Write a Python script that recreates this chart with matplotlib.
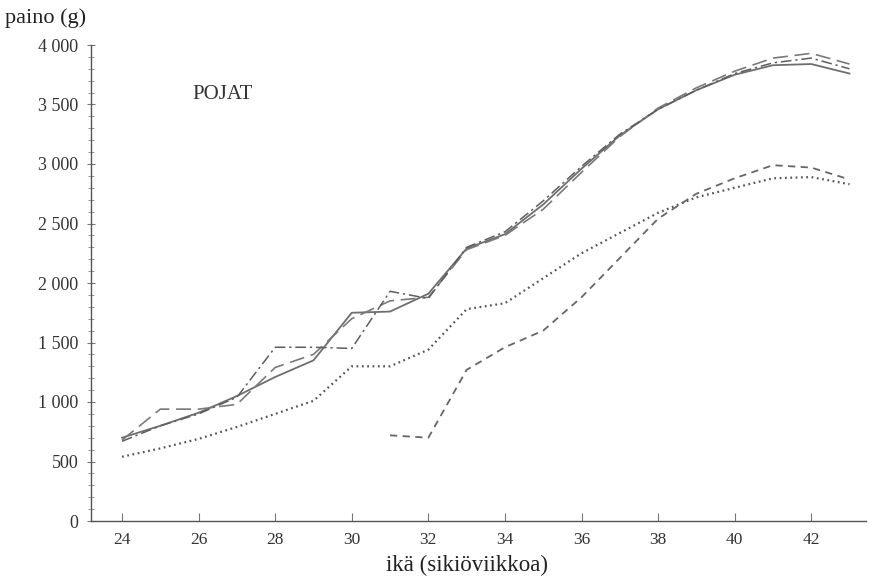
#!/usr/bin/env python3
"""Pojat: paino raskausviikon mukaan, viisi käyrää (out.png)."""

import matplotlib
matplotlib.use("Agg")
import matplotlib.pyplot as plt
from matplotlib.ticker import FuncFormatter, MultipleLocator

weeks = list(range(24, 44))
late_weeks = list(range(31, 44))

solid = [700, 800, 910, 1050, 1210, 1350, 1750, 1760, 1910, 2290,
         2410, 2660, 2960, 3240, 3460, 3620, 3750, 3830, 3840, 3760]
long_dash = [680, 940, 940, 980, 1290, 1400, 1700, 1850, 1880, 2280,
             2400, 2620, 2930, 3230, 3470, 3640, 3780, 3890, 3930, 3840]
dash_dot = [670, 800, 900, 1040, 1460, 1460, 1450, 1930, 1870, 2300,
            2430, 2690, 2980, 3250, 3460, 3620, 3760, 3850, 3890, 3800]
dotted = [540, 610, 690, 790, 900, 1010, 1300, 1300, 1440, 1780,
          1830, 2040, 2250, 2420, 2590, 2720, 2800, 2880, 2890, 2830]
dashed_late = [720, 700, 1270, 1460, 1600, 1880, 2210, 2540, 2750,
               2880, 2990, 2970, 2870]

plt.rcParams["font.family"] = ["Liberation Serif", "DejaVu Serif"]

fig = plt.figure(figsize=(8.7, 5.81), dpi=100)
ax = fig.add_axes([91 / 870, 60 / 581, 775 / 870, 476 / 581])

ax.plot(weeks, solid, "-", color="#6e6e6e", linewidth=1.3)
ax.plot(weeks, long_dash, color="#7a7a7a", linewidth=1.2, dashes=(9, 4))
ax.plot(weeks, dash_dot, color="#5e5e5e", linewidth=1.1, dashes=(7, 2.5, 1.5, 2.5))
ax.plot(weeks, dotted, color="#555555", linewidth=1.6, dashes=(0.8, 1.6))
ax.plot(late_weeks, dashed_late, color="#666666", linewidth=1.3, dashes=(4, 3))

ax.set_xlim(23.19, 43.43)
ax.set_ylim(0, 4000)

ax.xaxis.set_major_locator(MultipleLocator(2))
ax.yaxis.set_major_locator(MultipleLocator(500))
ax.yaxis.set_minor_locator(MultipleLocator(100))
ax.yaxis.set_major_formatter(
    FuncFormatter(lambda v, _: f"{int(v):,}".replace(",", " "))
)

for side in ("top", "right"):
    ax.spines[side].set_visible(False)
for side in ("left", "bottom"):
    ax.spines[side].set_color("#555555")
    ax.spines[side].set_linewidth(1.0)

ax.tick_params(axis="x", direction="in", length=6, width=0.8, color="#777777",
               labelsize=12.5, labelcolor="#333333", pad=8)
ax.tick_params(axis="y", which="major", direction="inout", length=6, width=0.8,
               color="#777777", labelsize=13, labelcolor="#333333", pad=6)
ax.tick_params(axis="y", which="minor", direction="inout", length=4, width=0.6,
               color="#888888")

ax.text(25.85, 3580, "POJAT", fontsize=15, color="#333333", va="center")

fig.text(5 / 870, 1 - 18 / 581, "paino (g)", fontsize=16, color="#222222",
         va="center", ha="left")
fig.text(467 / 870, 1 - 565 / 581, "ikä (sikiöviikkoa)", fontsize=16.5,
         color="#222222", va="center", ha="center")

fig.savefig("out.png", dpi=100)
plt.close(fig)
